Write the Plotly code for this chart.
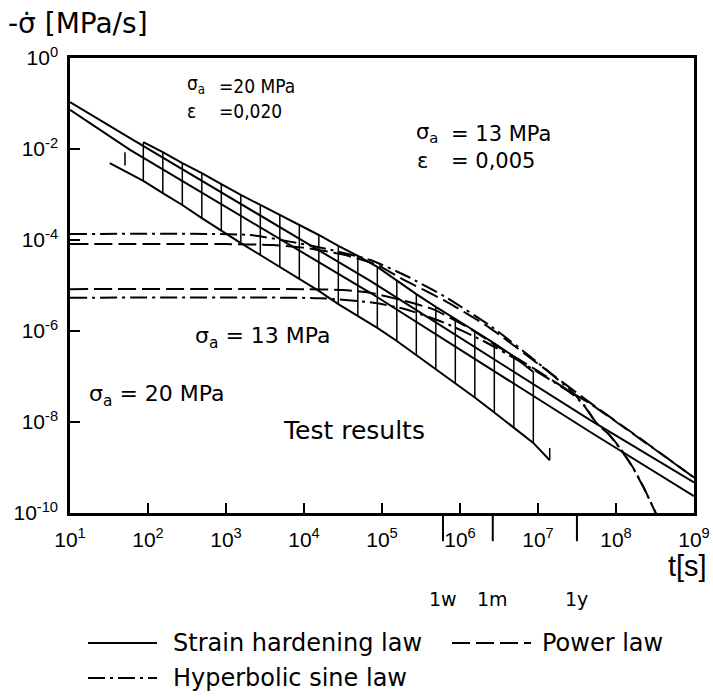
import numpy as np
import plotly.graph_objects as go

# ---------------- data (log10 units) ----------------
# Strain hardening law (solid)
sh1_log_t = [1.0, 1.77, 4.85, 7.67, 9.0]
sh1_log_rate = [-0.97, -1.76, -4.90, -7.96, -9.33]
sh2_log_t = [1.0, 1.77, 4.85, 7.67, 9.0]
sh2_log_rate = [-1.14, -2.02, -5.16, -8.22, -9.63]

# Power law (dashed)
pw1_log_t = [1.0, 3.0, 3.6, 4.0, 4.5, 4.94, 5.23, 5.83, 6.38, 7.0, 7.67, 8.3, 9.0]
pw1_log_rate = [-4.09, -4.09, -4.11, -4.17, -4.32, -4.55, -4.83, -5.36, -5.93, -6.72, -7.58, -8.35, -9.22]
pw2_log_t = [1.0, 4.0, 4.5, 4.85, 5.2, 5.65, 6.1, 6.5, 7.0, 7.4, 7.67, 8.3, 9.0]
pw2_log_rate = [-5.08, -5.08, -5.10, -5.16, -5.30, -5.52, -5.92, -6.36, -6.88, -7.32, -7.60, -8.36, -9.22]

# Hyperbolic sine law (dash-dot)
hs1_log_t = [1.0, 3.3, 3.8, 4.3, 4.85, 5.3, 5.8, 6.4, 7.0, 7.45, 7.6, 7.75, 7.9, 8.05, 8.2, 8.35, 8.55]
hs1_log_rate = [-3.87, -3.89, -4.03, -4.20, -4.44, -4.78, -5.24, -5.90, -6.70, -7.36, -7.65, -8.02, -8.25, -8.57, -8.95, -9.42, -10.15]
hs2_log_t = [1.0, 4.2, 4.85, 5.3, 5.8, 6.3, 6.8, 7.2, 7.45, 7.6, 7.75, 7.9, 8.05, 8.2, 8.35, 8.55]
hs2_log_rate = [-5.27, -5.28, -5.37, -5.52, -5.82, -6.22, -6.70, -7.12, -7.40, -7.66, -8.03, -8.26, -8.58, -8.96, -9.43, -10.15]

# Test results band
test_log_t = [1.94, 2.19, 2.44, 2.69, 2.94, 3.19, 3.44, 3.69, 3.94, 4.19, 4.44,
              4.69, 4.94, 5.19, 5.44, 5.69, 5.94, 6.19, 6.44, 6.69, 6.94]
test_top_log_rate = [-1.85, -2.07, -2.31, -2.53, -2.77, -3.01, -3.23, -3.45, -3.67, -3.89, -4.13,
                     -4.35, -4.59, -4.90, -5.19, -5.47, -5.73, -6.00, -6.27, -6.56, -6.90]
test_bot_log_rate = [-2.70, -2.97, -3.23, -3.52, -3.80, -4.07, -4.33, -4.59, -4.86, -5.12, -5.41,
                     -5.67, -5.93, -6.22, -6.53, -6.84, -7.14, -7.46, -7.79, -8.12, -8.46]
band_start_log_t = 1.51
band_start_log_rate = -2.31
band_end_log_t = 7.15
band_end_log_rate = -8.84
tick_start = (1.705, -2.07, -2.36)
tick_end = (7.15, -8.57, -8.84)

# axis ticks
x_tick_exp = [1, 2, 3, 4, 5, 6, 7, 8, 9]
y_tick_exp = [0, -2, -4, -6, -8, -10]

# time markers
marker_labels = ["1w", "1m", "1y"]
marker_t = [6.048e5, 2.63e6, 3.156e7]

# ---------------- figure ----------------
P = lambda a: (10.0 ** np.array(a, dtype=float))

fig = go.Figure()
K = "black"

def add(lt, lr, dash="solid", width=2.0, shape="linear"):
    fig.add_trace(go.Scatter(x=P(lt), y=P(lr), mode="lines",
                             line=dict(color=K, width=width, dash=dash, shape=shape, smoothing=0.6),
                             hoverinfo="skip", showlegend=False))

DASH = "18px,6px"
DASHDOT = "17px,5px,3px,5px"

add(sh1_log_t, sh1_log_rate)
add(sh2_log_t, sh2_log_rate)
add(pw1_log_t, pw1_log_rate, DASH, 2.0, "spline")
add(pw2_log_t, pw2_log_rate, DASH, 2.0, "spline")
add(hs1_log_t, hs1_log_rate, DASHDOT, 2.0, "spline")
add(hs2_log_t, hs2_log_rate, DASHDOT, 2.0, "spline")

# band edges
add(test_log_t, test_top_log_rate)
add([band_start_log_t] + test_log_t + [band_end_log_t],
    [band_start_log_rate] + test_bot_log_rate + [band_end_log_rate])

# verticals (hatching)
vx, vy = [], []
for lt, a, b in zip(test_log_t, test_top_log_rate, test_bot_log_rate):
    vx += [10 ** lt, 10 ** lt, None]
    vy += [10 ** a, 10 ** b, None]
for lt, a, b in (tick_start, tick_end):
    vx += [10 ** lt, 10 ** lt, None]
    vy += [10 ** a, 10 ** b, None]
fig.add_trace(go.Scatter(x=vx, y=vy, mode="lines", line=dict(color=K, width=1.5),
                         hoverinfo="skip", showlegend=False, connectgaps=False))

# time markers below the x axis
for t in marker_t:
    fig.add_shape(type="line", xref="x", yref="paper", x0=t, x1=t, y0=0, y1=-0.062,
                  line=dict(color=K, width=2))

ann = []
DV = "DejaVu Sans"
COND = "DejaVu Sans Condensed, Liberation Sans Narrow, Liberation Sans"
LIB = "Liberation Sans"

def text(s, x, y, size, xanchor="left", yanchor="middle", family=DV):
    ann.append(dict(text=s, x=x, y=y, xref="paper", yref="paper", showarrow=False,
                    xanchor=xanchor, yanchor=yanchor, font=dict(size=size, color=K, family=family)))

def px(xp):
    return (xp - 70) / 624.0

def py(yp):
    return (513 - yp) / 455.0

text("-\u03c3\u0307 [MPa/s]", px(6), py(23), 28)
text("t[s]", px(709), py(566), 29, "right", family=LIB)

# annotations inside plot
text("\u03c3<sub>a</sub>", px(185), py(99), 19, yanchor="bottom", family=COND)
text("=20 MPa", px(217), py(99), 19, yanchor="bottom", family=COND)
text("\u03b5", px(185), py(98), 19, yanchor="top", family=COND)
text("=0,020", px(217), py(98), 19, yanchor="top", family=COND)

text("\u03c3<sub>a</sub>", px(414), py(148), 21, yanchor="bottom")
text("= 13 MPa", px(449), py(148), 21, yanchor="bottom")
text("\u03b5", px(415), py(147), 21, yanchor="top")
text("= 0,005", px(449), py(147), 21, yanchor="top")

text("\u03c3<sub>a</sub> = 13 MPa", px(193), py(337), 22)
text("\u03c3<sub>a</sub> = 20 MPa", px(87), py(395), 22)
text("Test results", px(281), py(430), 25)

# time marker labels
for lab, t in zip(marker_labels, marker_t):
    ann.append(dict(text=lab, x=np.log10(t), y=py(599), xref="x", yref="paper", showarrow=False,
                    xanchor="center", yanchor="middle", font=dict(size=19, color=K, family=DV)))

# legend (manual)
leg = [("Strain hardening law", "solid", 88, 157, 171, 643),
       ("Power law", DASH, 452, 531, 540, 643),
       ("Hyperbolic sine law", DASHDOT, 88, 157, 171, 678)]
for name, dash, x0, x1, xt, yy in leg:
    fig.add_shape(type="line", xref="paper", yref="paper", x0=px(x0), x1=px(x1), y0=py(yy), y1=py(yy),
                  line=dict(color=K, width=2, dash=dash))
    text(name, px(xt), py(yy), 24)

fig.update_layout(
    width=713, height=697,
    margin=dict(l=70, r=19, t=58, b=184, autoexpand=False),
    paper_bgcolor="white", plot_bgcolor="white",
    showlegend=False,
    font=dict(family=DV, color=K),
    annotations=ann,
    xaxis=dict(type="log", range=[1, 9], tickvals=[10 ** e for e in x_tick_exp],
               ticktext=["10<sup>%d</sup>" % e for e in x_tick_exp],
               ticks="inside", ticklen=10, tickwidth=1.5, tickcolor=K,
               showline=True, linewidth=2.5, linecolor=K, mirror=True, automargin=False,
               showgrid=False, zeroline=False, tickfont=dict(size=21, color=K, family=LIB),
               ticklabelstandoff=6),
    yaxis=dict(type="log", range=[-10, 0], tickvals=[10.0 ** e for e in y_tick_exp],
               ticktext=["10<sup>%d</sup>" % e for e in y_tick_exp],
               ticks="inside", ticklen=10, tickwidth=1.5, tickcolor=K,
               showline=True, linewidth=2.5, linecolor=K, mirror=True, automargin=False,
               showgrid=False, zeroline=False, tickfont=dict(size=21, color=K, family=LIB),
               ticklabelstandoff=5),
)

fig.write_html("out.html")
